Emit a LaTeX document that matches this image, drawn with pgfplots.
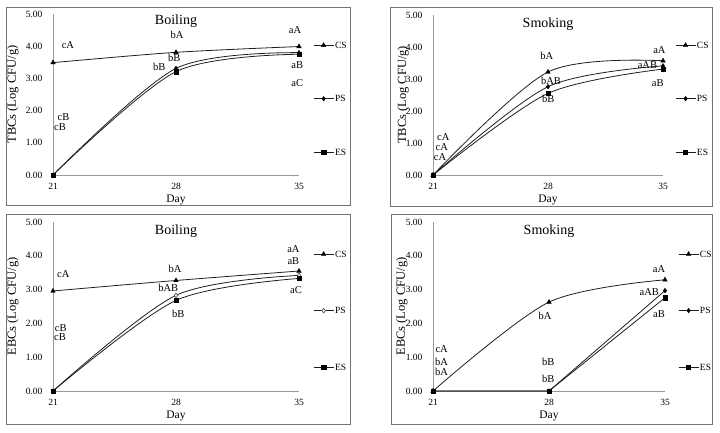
\documentclass[border=0pt]{standalone}
\usepackage{pgfplots}
\pgfplotsset{compat=1.18}
\usepackage{fontspec}
\setmainfont{Liberation Serif}
\newcommand{\fs}[1]{\fontsize{#1}{#1}\selectfont}
\definecolor{ln}{gray}{0.12}
\tikzset{
 ttl/.style={font=\fs{14}},
 ann/.style={font=\fs{10.5}},
}
\pgfplotsset{
 panel/.style={
  scale only axis, anchor=south west, clip=false,
  xmin=21, xmax=35, ymin=0, ymax=5,
  axis lines=left, axis line style={draw=black!40, line width=0.8pt, -},
  xtick={21,28,35}, ytick={0,1,2,3,4,5},
  major tick length=0pt,
  /pgf/number format/assume math mode=true,
  yticklabel style={/pgf/number format/.cd, fixed, fixed zerofill, precision=2, /tikz/.cd, font=\fs{9.5}, xshift=-7pt},
  xticklabel style={font=\fs{9.5}, yshift=-5pt},
  xlabel={Day},
  every axis x label/.style={at={(axis description cs:0.5,0)}, anchor=center, yshift=-25pt, font=\fs{11.5}},
  legend cell align=left,
  legend image code/.code={\draw[##1, mark repeat=2, mark phase=2] plot coordinates {(0pt,0pt)(10pt,0pt)(20pt,0pt)};},
  legend style={draw=none, fill=none, font=\fs{9.5}, anchor=north west, inner sep=0pt, yshift=4pt,
    nodes={inner sep=1pt, text height=6pt, text depth=0pt}},
 },
 ylab/.style={every axis y label/.style={at={(axis description cs:#1,0.5)}, rotate=90, anchor=center, font=\fs{12.5}}},
 base/.style={ln, line width=0.8pt, mark options={solid, fill=black, draw=black, line width=0.4pt}},
 cs/.style={base, smooth, mark=triangle*, mark size=2.6pt},
 ps/.style={base, smooth, mark=diamond*, mark size=2.3pt},
 es/.style={base, smooth, mark=square*, mark size=2.1pt},
}
\begin{document}
\begin{tikzpicture}[x=1pt,y=1pt]
\path[use as bounding box] (0,0) rectangle (720,432);
\draw[black!55, line width=0.8pt] (6,227) rectangle (350,425);
\draw[black!55, line width=0.8pt] (390,226) rectangle (712,425);
\draw[black!55, line width=0.8pt] (6,8) rectangle (350,218);
\draw[black!55, line width=0.8pt] (391,8) rectangle (712,218);

% Top-left: Boiling TBCs
\begin{axis}[panel, ylab=-0.163, at={(53pt,257pt)}, width=246pt, height=161pt,
  ylabel={TBCs (Log CFU/g)},
  legend style={at={(axis description cs:1.057,0.807)}, row sep=45.5pt}]
\addplot[cs] coordinates {(21,3.49)(28,3.81)(35,3.99)};
\addlegendentry{CS}
\addplot[ps] coordinates {(21,0)(28,3.31)(35,3.80)};
\addlegendentry{PS}
\addplot[es] coordinates {(21,0)(28,3.21)(35,3.75)};
\addlegendentry{ES}
\node[ttl] at (rel axis cs:0.5,0.955) {Boiling};
\node[ann] at (axis cs:21.85,4.04) {cA};
\node[ann] at (axis cs:28.06,4.34) {bA};
\node[ann] at (axis cs:34.77,4.5) {aA};
\node[ann] at (axis cs:27.9,3.63) {bB};
\node[ann] at (axis cs:27.05,3.35) {bB};
\node[ann] at (axis cs:34.9,3.42) {aB};
\node[ann] at (axis cs:34.9,2.86) {aC};
\node[ann] at (axis cs:21.6,1.80) {cB};
\node[ann] at (axis cs:21.4,1.49) {cB};
\end{axis}

% Top-right: Smoking TBCs
\begin{axis}[panel, ylab=-0.130, at={(433pt,257pt)}, width=230pt, height=160pt,
  ylabel={TBCs (Log CFU/g)},
  legend style={at={(axis description cs:1.052,0.8125)}, row sep=45.5pt}]
\addplot[cs] coordinates {(21,0)(28,3.22)(35,3.57)};
\addlegendentry{CS}
\addplot[ps] coordinates {(21,0)(28,2.76)(35,3.41)};
\addlegendentry{PS}
\addplot[es] coordinates {(21,0)(28,2.55)(35,3.31)};
\addlegendentry{ES}
\node[ttl] at (rel axis cs:0.5,0.94) {Smoking};
\node[ann] at (axis cs:21.63,1.18) {cA};
\node[ann] at (axis cs:21.53,0.87) {cA};
\node[ann] at (axis cs:21.43,0.55) {cA};
\node[ann] at (axis cs:27.92,3.72) {bA};
\node[ann] at (axis cs:28.18,2.94) {bAB};
\node[ann] at (axis cs:28.02,2.37) {bB};
\node[ann] at (axis cs:34.78,3.91) {aA};
\node[ann] at (axis cs:34.05,3.44) {aAB};
\node[ann] at (axis cs:34.68,2.88) {aB};
\end{axis}

% Bottom-left: Boiling EBCs
\begin{axis}[panel, ylab=-0.163, at={(53pt,41pt)}, width=246pt, height=169pt,
  ylabel={EBCs (Log CFU/g)},
  legend style={at={(axis description cs:1.057,0.811)}, row sep=48.5pt}]
\addplot[cs] coordinates {(21,2.96)(28,3.27)(35,3.55)};
\addlegendentry{CS}
\addplot[ps, mark=diamond*, mark options={fill=white, draw=black!60}] coordinates {(21,0)(28,2.83)(35,3.42)};
\addlegendentry{PS}
\addplot[es] coordinates {(21,0)(28,2.68)(35,3.33)};
\addlegendentry{ES}
\node[ttl] at (rel axis cs:0.5,0.947) {Boiling};
\node[ann] at (axis cs:21.59,3.45) {cA};
\node[ann] at (axis cs:27.94,3.62) {bA};
\node[ann] at (axis cs:34.68,4.19) {aA};
\node[ann] at (axis cs:34.68,3.85) {aB};
\node[ann] at (axis cs:27.56,3.06) {bAB};
\node[ann] at (axis cs:28.13,2.27) {bB};
\node[ann] at (axis cs:34.83,2.98) {aC};
\node[ann] at (axis cs:21.44,1.87) {cB};
\node[ann] at (axis cs:21.4,1.6) {cB};
\end{axis}

% Bottom-right: Smoking EBCs
\begin{axis}[panel, ylab=-0.134, at={(433pt,41pt)}, width=232pt, height=169pt,
  ylabel={EBCs (Log CFU/g)},
  legend style={at={(axis description cs:1.056,0.811)}, row sep=48.5pt}]
\addplot[cs] coordinates {(21,0)(28,2.63)(35,3.29)};
\addlegendentry{CS}
\addplot[ps, sharp plot] coordinates {(21,0)(28,0)(35,2.97)};
\addlegendentry{PS}
\addplot[es, sharp plot] coordinates {(21,0)(28,0)(35,2.76)};
\addlegendentry{ES}
\node[ttl] at (rel axis cs:0.5,0.947) {Smoking};
\node[ann] at (axis cs:21.52,1.25) {cA};
\node[ann] at (axis cs:21.52,0.86) {bA};
\node[ann] at (axis cs:21.52,0.57) {bA};
\node[ann] at (axis cs:27.76,2.22) {bA};
\node[ann] at (axis cs:27.96,0.86) {bB};
\node[ann] at (axis cs:27.96,0.37) {bB};
\node[ann] at (axis cs:34.64,3.62) {aA};
\node[ann] at (axis cs:34.05,2.93) {aAB};
\node[ann] at (axis cs:34.64,2.27) {aB};
\end{axis}
\end{tikzpicture}
\end{document}
